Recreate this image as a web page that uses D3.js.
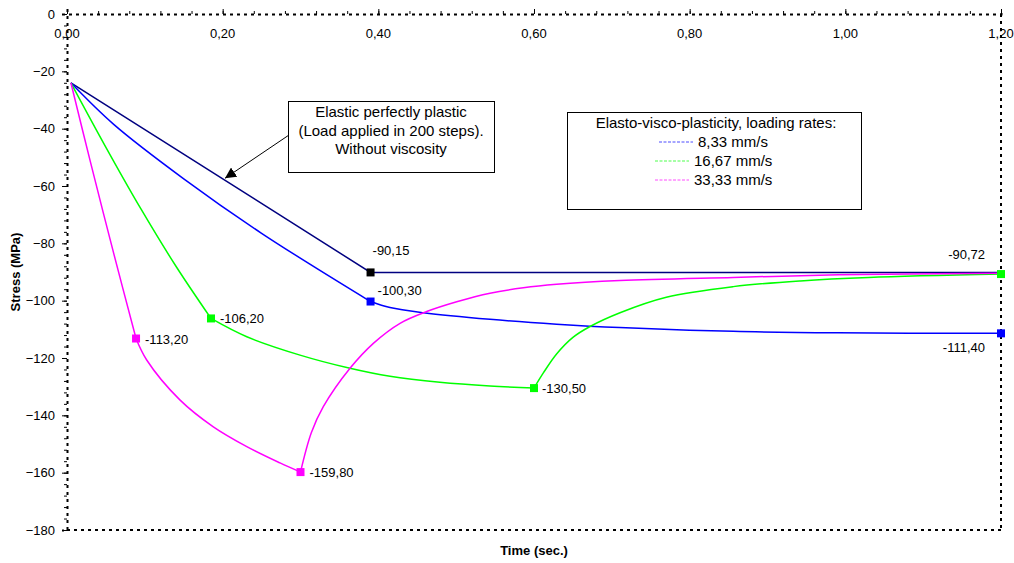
<!DOCTYPE html>
<html>
<head>
<meta charset="utf-8">
<script src="https://cdn.jsdelivr.net/npm/d3@7"></script>
<style>
  body { margin: 0; background: #fff; }
  text { font-family: "Liberation Sans", Arial, sans-serif; fill: #000; }
</style>
</head>
<body>
<div id="chart"></div>
<script>
// series (time in s, stress in MPa)
let elasticPts = [[0.005, -24], [0.39, -90.15], [1.2, -90.15]];

let blueLoad = [[0.005, -24], [0.06, -38.5], [0.15, -57.5], [0.25, -76.5], [0.39, -100.3]];
let blueHold = [[0.39, -100.3], [0.415, -102.4], [0.458, -104.2], [0.5435, -106.5], [0.629, -108.2],
    [0.71, -109.4], [0.856, -110.7], [0.99, -111.2], [1.2, -111.4]];

let greenLoad = [[0.005, -24], [0.05, -46.5], [0.095, -68], [0.14, -88], [0.185, -106.2]];
let greenVisc = [[0.185, -106.2], [0.231, -112.6], [0.2994, -119.0], [0.3636, -123.6], [0.415, -126.4],
    [0.479, -128.5], [0.5435, -129.8], [0.6, -130.5]];
let greenRelax = [[0.6, -130.5], [0.612, -125.2], [0.629, -118.6], [0.65, -112.8], [0.672, -109.0],
    [0.7105, -104.2], [0.77, -98.8], [0.856, -95.1], [0.942, -93.1], [1.03, -91.9], [1.2, -90.72]];

let magLoad = [[0.005, -24], [0.03, -51.5], [0.06, -83.5], [0.0887, -113.2]];
let magVisc = [[0.0887, -113.2], [0.1024, -120.7], [0.145, -134.6], [0.188, -144.0], [0.231, -150.9],
    [0.2737, -156.6], [0.30, -159.8]];
let magRelax = [[0.30, -159.8], [0.314, -146.0], [0.3293, -137.0], [0.3636, -123.6], [0.3936, -114.9],
    [0.4279, -107.9], [0.4622, -103.8], [0.5007, -100.4], [0.5435, -97.4], [0.5863, -95.5],
    [0.629, -94.3], [0.7105, -93.0], [0.856, -91.9], [0.991, -91.0], [1.2, -90.4]];

// marked points: [time, stress]
let elasticMarks = [[0.39, -90.15]];
let blueMarks = [[0.39, -100.3], [1.2, -111.4]];
let greenMarks = [[0.185, -106.2], [0.6, -130.5], [1.2, -90.72]];
let magMarks = [[0.0887, -113.2], [0.30, -159.8]];

let legendRates = ["8,33 mm/s", "16,67 mm/s", "33,33 mm/s"];
let xTicks = [0, 0.2, 0.4, 0.6, 0.8, 1.0, 1.2];
let yTicks = [0, -20, -40, -60, -80, -100, -120, -140, -160, -180];

let W = 1014, H = 563;
let pLeft = 67, pRight = 1001, pTop = 14, pBottom = 530;

let loc = d3.formatLocale({decimal: ",", thousands: ".", grouping: [3], currency: ["", ""], minus: "-"});
let f2 = loc.format(".2f");

let x = d3.scaleLinear().domain([0, 1.2]).range([pLeft, pRight]);
let y = d3.scaleLinear().domain([0, -180]).range([pTop, pBottom]);

let svg = d3.select("#chart").append("svg")
    .attr("width", W).attr("height", H)
    .style("display", "block");

svg.append("rect").attr("width", W).attr("height", H).attr("fill", "#fff");

// dotted plot frame (right and bottom)
let dots = "3,4";
svg.append("line").attr("x1", pRight).attr("x2", pRight).attr("y1", pTop).attr("y2", pBottom)
    .attr("stroke", "#000").attr("stroke-width", 2).attr("stroke-dasharray", dots);
svg.append("line").attr("x1", pLeft).attr("x2", pRight).attr("y1", pBottom).attr("y2", pBottom)
    .attr("stroke", "#000").attr("stroke-width", 2).attr("stroke-dasharray", dots);

// top x axis
let xAxis = svg.append("g")
    .attr("transform", "translate(0," + pTop + ")")
    .call(d3.axisTop(x).tickValues(xTicks).tickSize(5).tickFormat(""));
xAxis.select(".domain").attr("stroke-dasharray", dots).attr("stroke-width", 2);
svg.append("g")
    .attr("transform", "translate(0," + pTop + ")")
    .call(d3.axisTop(x).tickValues(d3.range(0, 1.2001, 0.04)).tickSize(3).tickFormat(""))
    .select(".domain").remove();
svg.append("g").selectAll("text")
    .data(xTicks)
    .enter()
    .append("text")
    .attr("x", d => x(d))
    .attr("y", 38)
    .attr("text-anchor", "middle")
    .style("font-size", "13px")
    .text(d => f2(d));

// left y axis
let yAxis = svg.append("g")
    .attr("transform", "translate(" + pLeft + ",0)")
    .call(d3.axisLeft(y).tickValues(yTicks).tickSize(5).tickPadding(7).tickFormat(d3.format("d")));
yAxis.select(".domain").attr("stroke-dasharray", dots).attr("stroke-width", 2);
yAxis.selectAll("text").style("font-size", "13px").attr("font-family", null);
svg.append("g")
    .attr("transform", "translate(" + pLeft + ",0)")
    .call(d3.axisLeft(y).tickValues(d3.range(0, -180.01, -4)).tickSize(3).tickFormat(""))
    .select(".domain").remove();

// axis titles
svg.append("text")
    .attr("x", (pLeft + pRight) / 2)
    .attr("y", 555)
    .attr("text-anchor", "middle")
    .style("font-size", "13px").style("font-weight", "bold")
    .text("Time (sec.)");
svg.append("text")
    .attr("transform", "translate(20," + ((pTop + pBottom) / 2) + ") rotate(-90)")
    .attr("text-anchor", "middle")
    .style("font-size", "13px").style("font-weight", "bold")
    .text("Stress (MPa)");

// curves
let smooth = d3.line().x(d => x(d[0])).y(d => y(d[1])).curve(d3.curveCatmullRom.alpha(0.5));
let straight = d3.line().x(d => x(d[0])).y(d => y(d[1]));

function drawSeg(pts, col, gen) {
    svg.append("path")
        .attr("d", gen(pts))
        .attr("fill", "none")
        .attr("stroke", col)
        .attr("stroke-width", 1.5);
}

drawSeg(elasticPts, "#000080", straight);
[blueLoad, blueHold].forEach(s => drawSeg(s, "#0000ff", smooth));
[greenLoad, greenVisc, greenRelax].forEach(s => drawSeg(s, "#00ff00", smooth));
[magLoad, magVisc, magRelax].forEach(s => drawSeg(s, "#ff00ff", smooth));

function drawMarks(marks, col) {
    svg.append("g").selectAll("rect")
        .data(marks)
        .enter()
        .append("rect")
        .attr("x", d => x(d[0]) - 4)
        .attr("y", d => y(d[1]) - 4)
        .attr("width", 8).attr("height", 8)
        .attr("fill", col);
}
drawMarks(elasticMarks, "#000000");
drawMarks(blueMarks, "#0000ff");
drawMarks(greenMarks, "#00ff00");
drawMarks(magMarks, "#ff00ff");

// value labels: point, offset, anchor
let labelPlace = [
    [elasticMarks[0], 2, -17, "start"],
    [blueMarks[0], 7, -7, "start"],
    [blueMarks[1], -16, 19, "end"],
    [greenMarks[0], 9, 5, "start"],
    [greenMarks[1], 8, 5, "start"],
    [greenMarks[2], -16, -15, "end"],
    [magMarks[0], 9, 5, "start"],
    [magMarks[1], 9, 5, "start"]
];
svg.append("g").selectAll("text")
    .data(labelPlace)
    .enter()
    .append("text")
    .attr("x", d => x(d[0][0]) + d[1])
    .attr("y", d => y(d[0][1]) + d[2])
    .attr("text-anchor", d => d[3])
    .style("font-size", "13px")
    .text(d => f2(d[0][1]));

// annotation box with arrow
svg.append("defs").append("marker")
    .attr("id", "arrowhead")
    .attr("viewBox", "0 0 10 10")
    .attr("refX", 10).attr("refY", 5)
    .attr("markerWidth", 11).attr("markerHeight", 11)
    .attr("markerUnits", "userSpaceOnUse")
    .attr("orient", "auto")
    .append("path").attr("d", "M0,0 L10,5 L0,10 z").attr("fill", "#000");

svg.append("line")
    .attr("x1", 289).attr("y1", 135)
    .attr("x2", x(0.203)).attr("y2", y(-57.3))
    .attr("stroke", "#000").attr("stroke-width", 1)
    .attr("marker-end", "url(#arrowhead)");

svg.append("rect")
    .attr("x", 288.5).attr("y", 101.5).attr("width", 206).attr("height", 71)
    .attr("fill", "#fff").attr("stroke", "#000").attr("stroke-width", 1);
let noteLines = ["Elastic perfectly plastic", "(Load applied in 200 steps).", "Without viscosity"];
svg.append("g").selectAll("text")
    .data(noteLines)
    .enter()
    .append("text")
    .attr("x", 391)
    .attr("y", (d, i) => 117 + i * 18.5)
    .attr("text-anchor", "middle")
    .style("font-size", "15px")
    .text(d => d);

// legend box
svg.append("rect")
    .attr("x", 567.5).attr("y", 112.5).attr("width", 294).attr("height", 97)
    .attr("fill", "#fff").attr("stroke", "#000").attr("stroke-width", 1);
svg.append("text")
    .attr("x", 716).attr("y", 128)
    .attr("text-anchor", "middle")
    .style("font-size", "15px")
    .text("Elasto-visco-plasticity, loading rates:");

let legendCols = ["#0000ff", "#00ff00", "#ff00ff"];
let leg = svg.append("g").selectAll("g")
    .data(legendRates)
    .enter()
    .append("g")
    .attr("transform", (d, i) => "translate(" + (i === 0 ? 659 : 655) + "," + (142 + i * 19) + ")");
leg.append("line")
    .attr("x1", 0).attr("x2", 34).attr("y1", 0).attr("y2", 0)
    .attr("stroke", (d, i) => legendCols[i])
    .attr("stroke-opacity", 0.7)
    .attr("stroke-width", 1)
    .attr("stroke-dasharray", "3,1.5");
leg.append("text")
    .attr("x", 39).attr("y", 5)
    .style("font-size", "15px")
    .text(d => d);
</script>
</body>
</html>
